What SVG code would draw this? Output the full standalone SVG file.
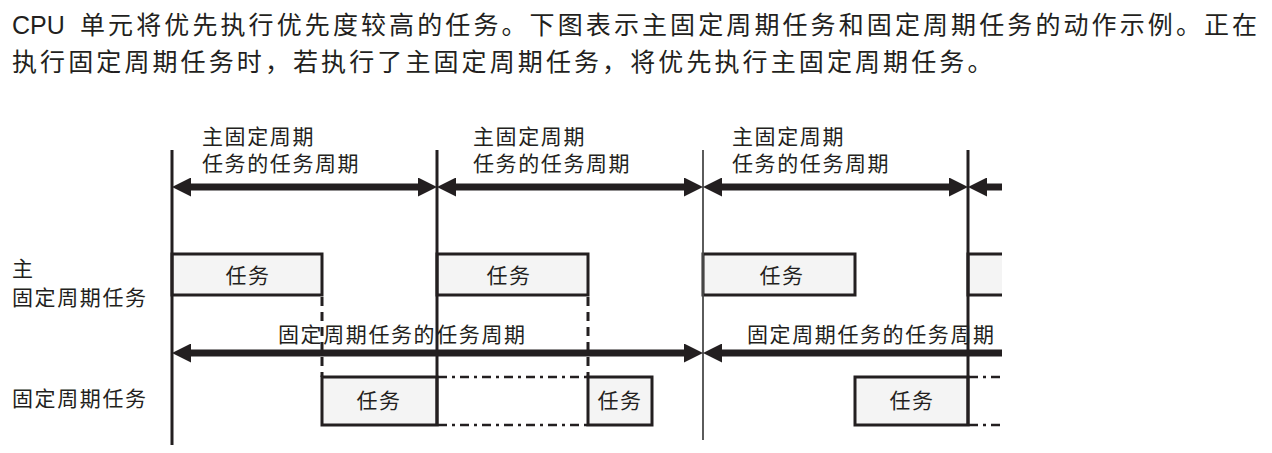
<svg xmlns="http://www.w3.org/2000/svg" width="1272" height="453" viewBox="0 0 1272 453">
<style>
.t{font-family:"Liberation Sans","Noto Sans CJK SC",sans-serif;fill:#231f20}
.top{font-size:25px;letter-spacing:3.1px}
.d{font-size:21px;letter-spacing:1.6px}
.c{text-anchor:middle}
.v{stroke:#231f20;stroke-width:3;fill:none}
.vt{stroke:#4a4a4a;stroke-width:1.8;fill:none}
.box{fill:#f4f4f4;stroke:#231f20;stroke-width:3}
.dash{stroke:#231f20;stroke-width:3;stroke-dasharray:9 6;fill:none}
.dd{stroke:#231f20;stroke-width:2.5;stroke-dasharray:9 5 3 5;fill:none}
.arr{stroke:#231f20;stroke-width:7;fill:none}
</style>
<defs>
<marker id="ah" markerUnits="userSpaceOnUse" markerWidth="19" markerHeight="19" refX="0" refY="9.5" orient="auto-start-reverse" viewBox="0 0 19 19">
<path d="M0,0 L19,9.5 L0,19 z" fill="#231f20"/>
</marker>
<clipPath id="clip"><rect x="0" y="0" width="1002" height="453"/></clipPath>
</defs>
<rect width="1272" height="453" fill="#ffffff"/>
<g id="intro">
<text class="t" y="34"><tspan x="12" font-size="25">CPU</tspan><tspan x="80" class="top">单元将优先执行优先度较高的任务。下图表示主固定周期任务和固定周期任务的动作示例。正在</tspan></text>
<text class="t top" x="12" y="71">执行固定周期任务时，若执行了主固定周期任务，将优先执行主固定周期任务。</text>
</g>
<g id="row-labels">
<text class="t d" x="12" y="276">主</text>
<text class="t d" x="12" y="305">固定周期任务</text>
<text class="t d" x="12" y="406">固定周期任务</text>
</g>
<g id="main-tasks" clip-path="url(#clip)">
<rect class="box" x="172" y="254" width="150" height="41"/>
<text class="t d c" x="248" y="283">任务</text>
<rect class="box" x="437" y="254" width="151" height="41"/>
<text class="t d c" x="509" y="283">任务</text>
<rect class="box" x="703" y="254" width="152" height="41"/>
<text class="t d c" x="782" y="283">任务</text>
<rect class="box" x="968" y="254" width="60" height="41"/>
</g>
<g id="fixed-tasks" clip-path="url(#clip)">
<rect class="box" x="322" y="377" width="115" height="48"/>
<text class="t d c" x="379" y="408">任务</text>
<rect class="box" x="588" y="377" width="64" height="48"/>
<text class="t d c" x="620" y="408">任务</text>
<rect class="box" x="855" y="377" width="113" height="48"/>
<text class="t d c" x="912" y="408">任务</text>
<path class="dd" d="M438,377 H588 M438,425 H588 M969,377 H1002 M969,425 H1002"/>
<path class="dash" d="M322,297 V377 M588,297 V377"/>
</g>
<g id="time-lines">
<path class="v" d="M172,150 V445 M437,150 V425 M968,150 V425"/>
<path class="vt" d="M703,150 V440"/>
</g>
<g id="connectors" clip-path="url(#clip)">
<line class="arr" x1="191" y1="187" x2="418" y2="187" marker-start="url(#ah)" marker-end="url(#ah)"/>
<line class="arr" x1="456" y1="187" x2="684" y2="187" marker-start="url(#ah)" marker-end="url(#ah)"/>
<line class="arr" x1="722" y1="187" x2="949" y2="187" marker-start="url(#ah)" marker-end="url(#ah)"/>
<line class="arr" x1="987" y1="187" x2="1002" y2="187" marker-start="url(#ah)"/>
<line class="arr" x1="191" y1="353" x2="684" y2="353" marker-start="url(#ah)" marker-end="url(#ah)"/>
<line class="arr" x1="722" y1="353" x2="1002" y2="353" marker-start="url(#ah)"/>
</g>
<g id="period-labels">
<text class="t d" x="202" y="144">主固定周期</text>
<text class="t d" x="202" y="171">任务的任务周期</text>
<text class="t d" x="473" y="144">主固定周期</text>
<text class="t d" x="473" y="171">任务的任务周期</text>
<text class="t d" x="732" y="144">主固定周期</text>
<text class="t d" x="732" y="171">任务的任务周期</text>
<text class="t d" x="278" y="342">固定周期任务的任务周期</text>
<text class="t d" x="747" y="342">固定周期任务的任务周期</text>
</g>
</svg>
